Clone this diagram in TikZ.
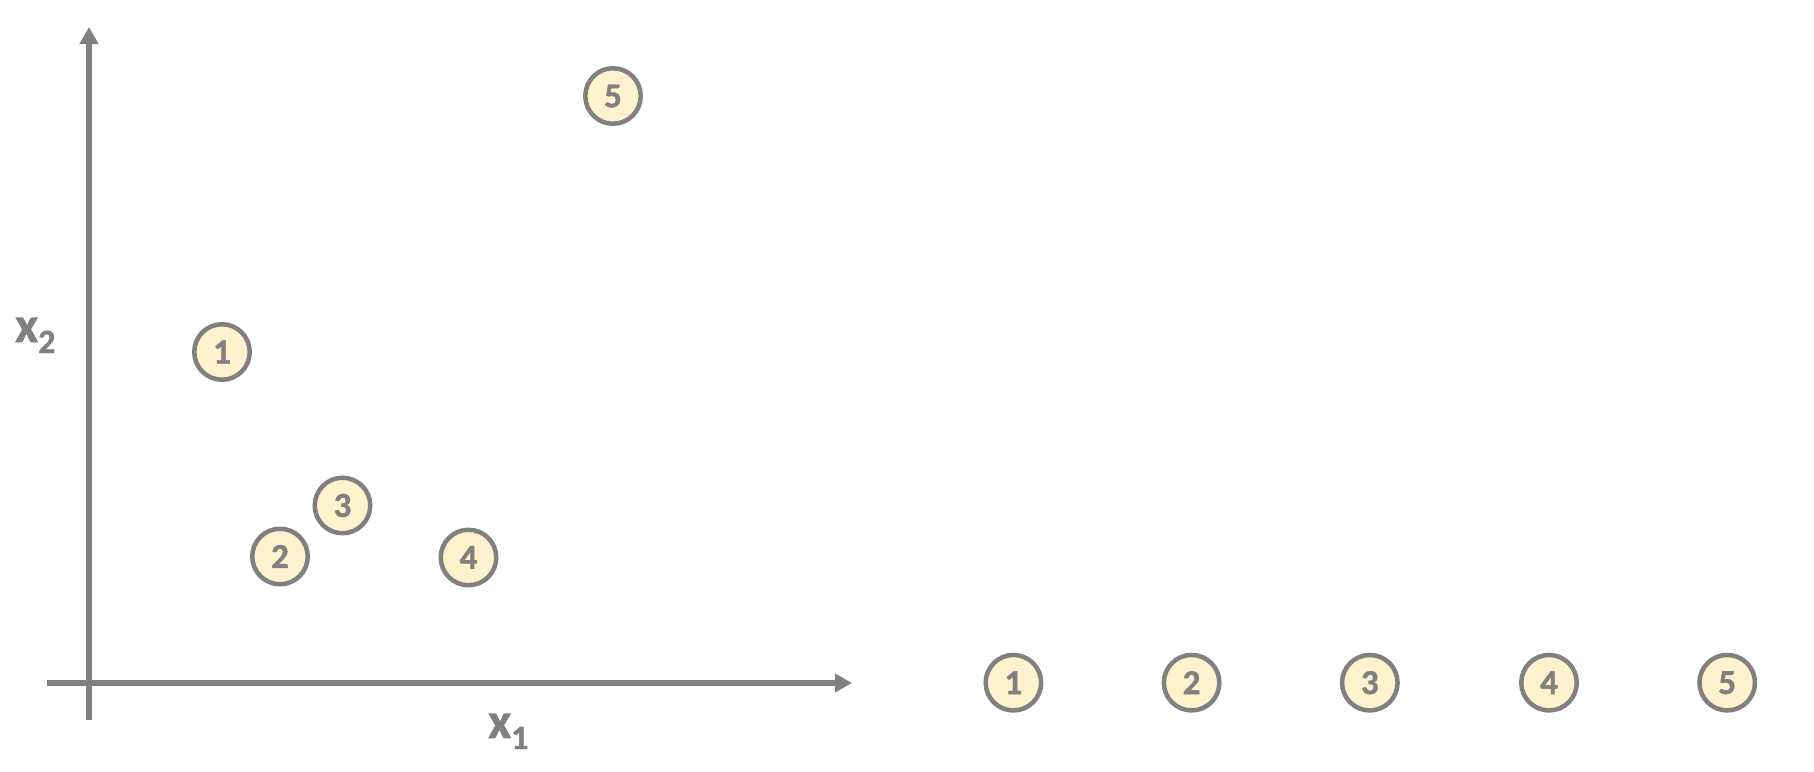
\documentclass[tikz,border=0pt]{standalone}
\usepackage{fontspec}
\setmainfont{Carlito}[BoldFont={Carlito Bold}]
\newfontfamily\carlitobold{Carlito Bold}[FakeBold=1.2]
\usetikzlibrary{arrows.meta}
\definecolor{axgray}{HTML}{808080}
\definecolor{ptfill}{HTML}{FFF2CC}
\tikzset{
  axis/.style={draw=axgray, line width=6pt, -{Triangle[length=17pt,width=18pt]}},
  pt/.style={circle, draw=axgray, fill=ptfill, line width=4.5pt, minimum size=55.5pt, inner sep=0pt,
    text=axgray, font=\carlitobold\fontsize{35}{35}\selectfont},
  axlabel/.style={anchor=base west, inner sep=0pt, text=axgray, font=\carlitobold}
}
\begin{document}
\begin{tikzpicture}[x=1pt,y=-1pt]
\useasboundingbox (0,0) rectangle (1814,771);
\coordinate (ybot) at (89,720);
\coordinate (ytop) at (89,27);
\coordinate (xleft) at (47,683);
\coordinate (xright) at (852,683);
\draw[axis] (ybot) -- (ytop);
\draw[axis] (xleft) -- (xright);
\node[axlabel] (lx2) at (15,342) {{\fontsize{50}{50}\selectfont x}\raisebox{-11pt}{\fontsize{34}{34}\selectfont 2}};
\node[axlabel] (lx1) at (488,738) {{\fontsize{50}{50}\selectfont x}\raisebox{-11pt}{\fontsize{34}{34}\selectfont 1}};
\node[pt] (a1) at (222,352) {1};
\node[pt] (a2) at (280,556.5) {2};
\node[pt] (a3) at (342.5,505.5) {3};
\node[pt] (a4) at (468.5,557.5) {4};
\node[pt] (a5) at (613,96) {5};
\node[pt] (b1) at (1013.4,682.7) {1};
\node[pt] (b2) at (1191.6,682.7) {2};
\node[pt] (b3) at (1369.8,682.7) {3};
\node[pt] (b4) at (1549,682.7) {4};
\node[pt] (b5) at (1727.2,682.7) {5};
\end{tikzpicture}
\end{document}
